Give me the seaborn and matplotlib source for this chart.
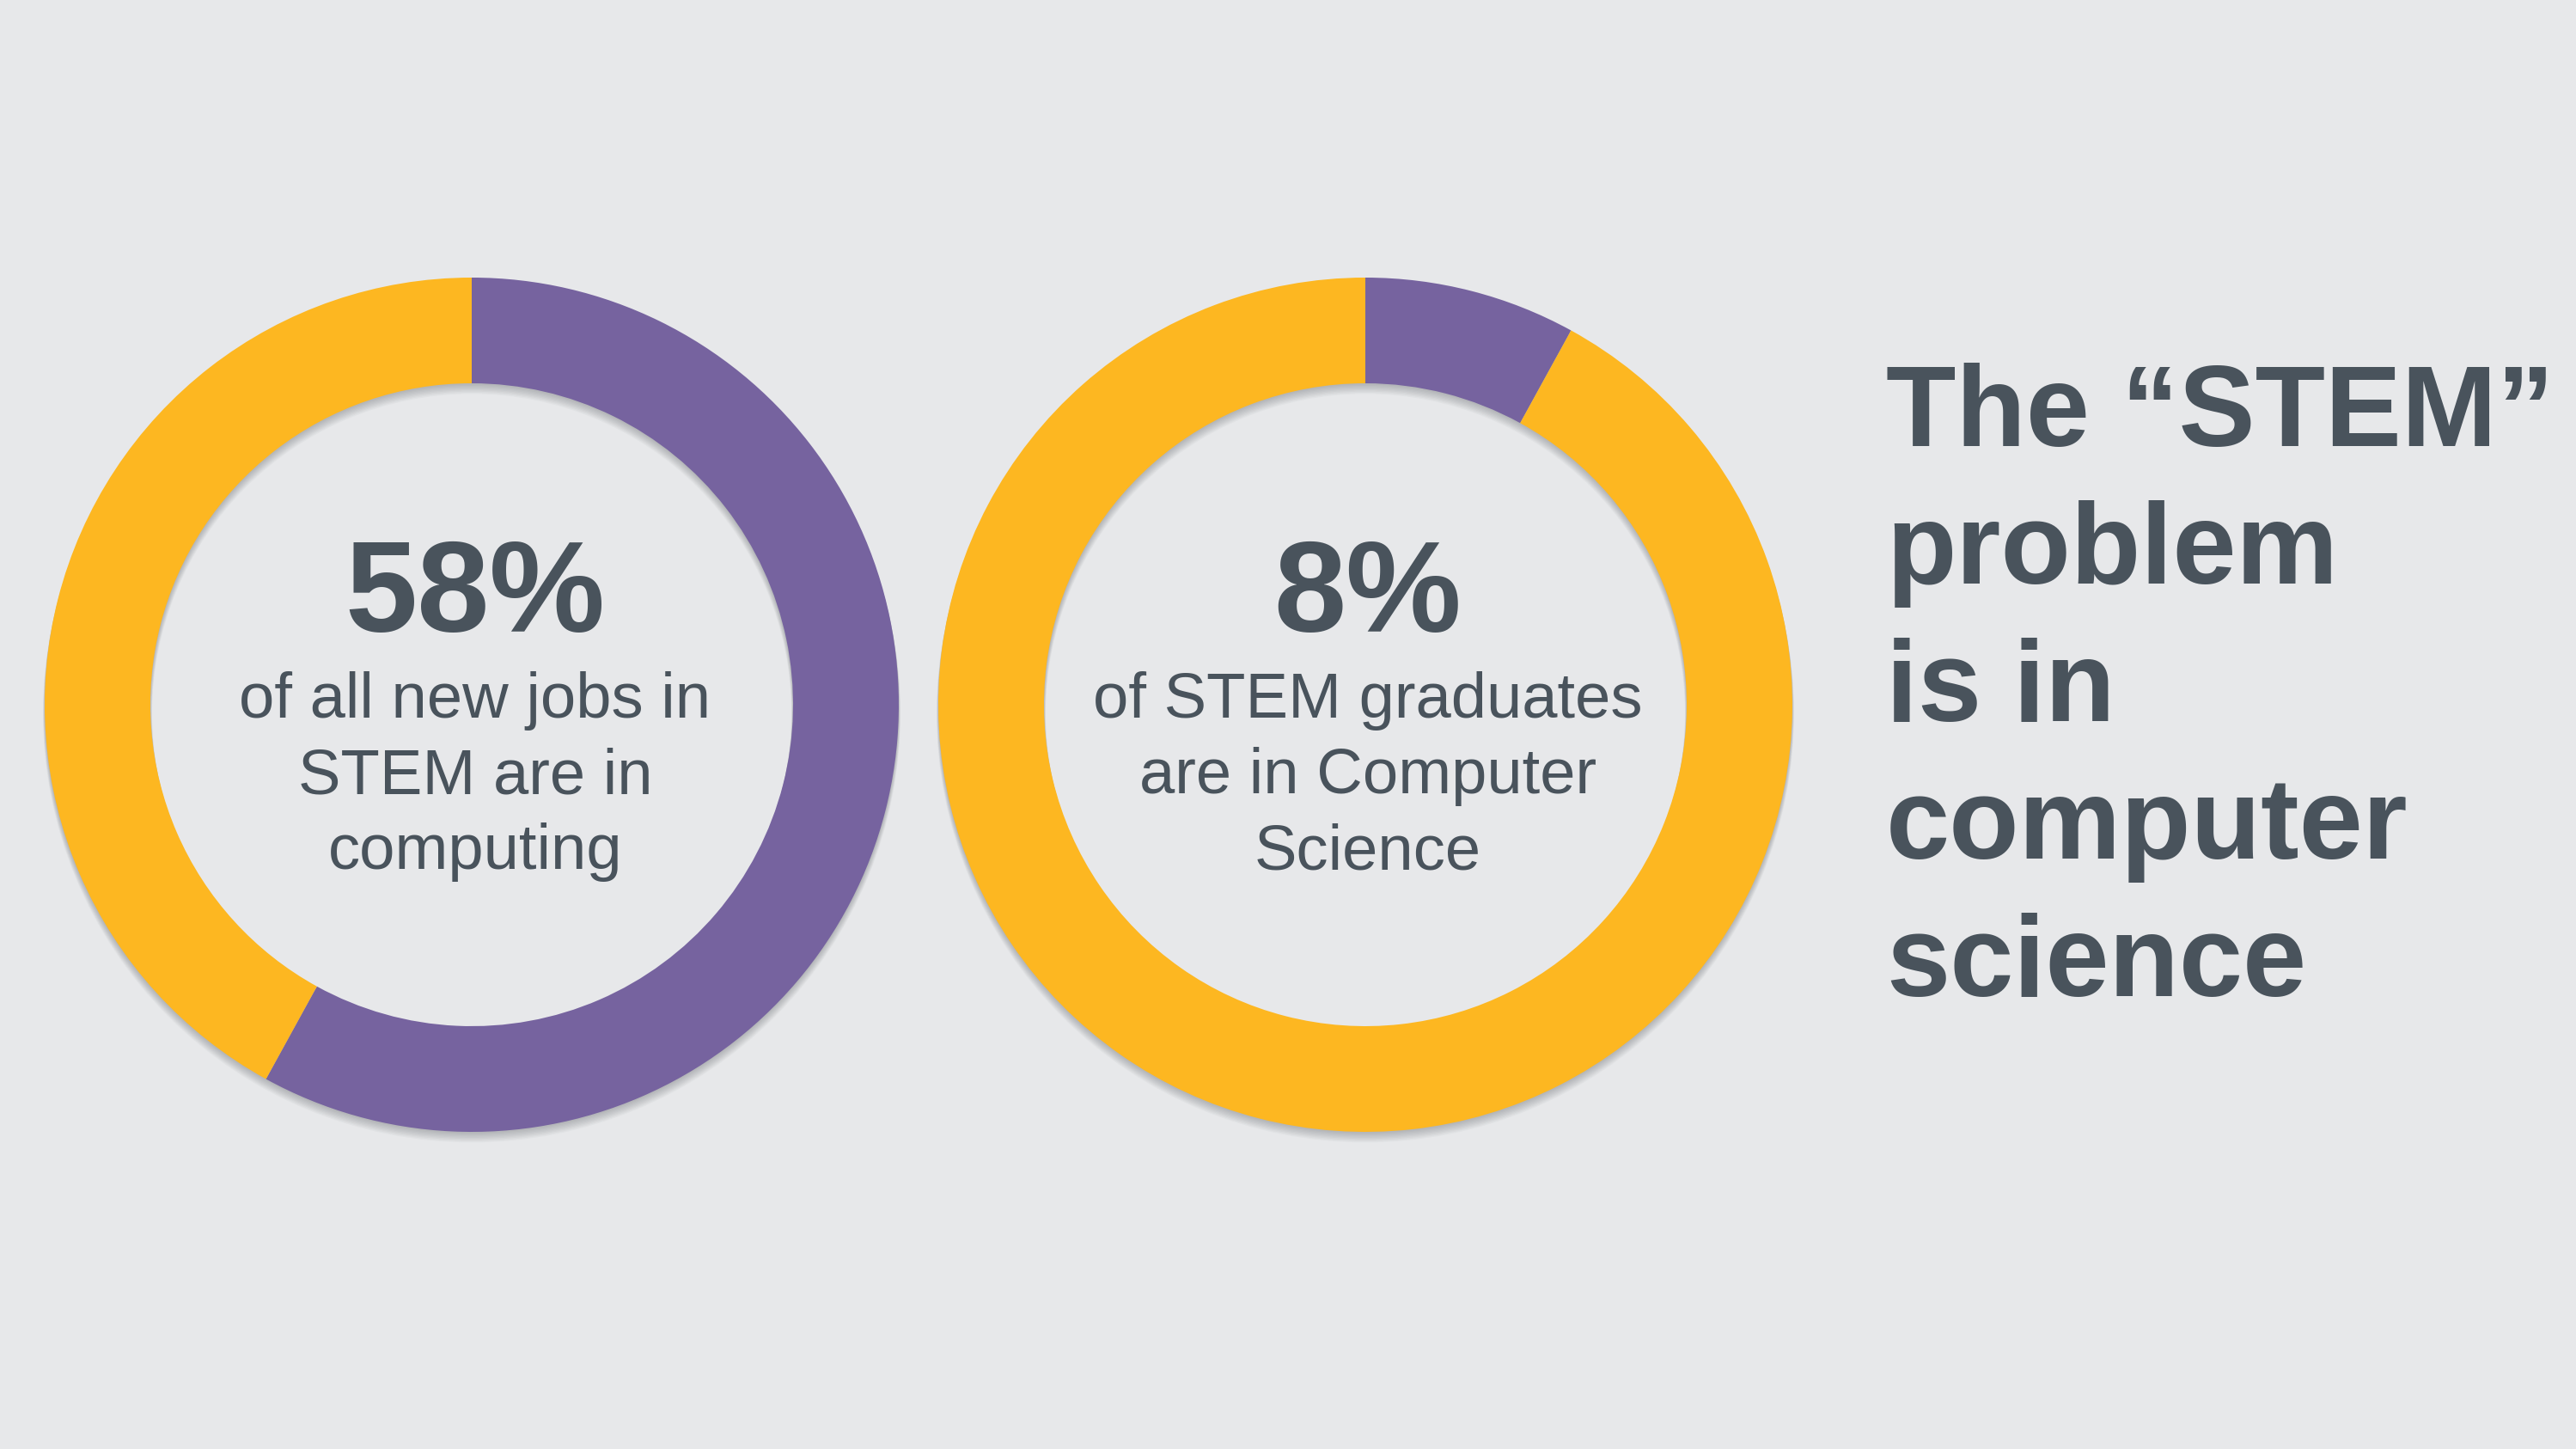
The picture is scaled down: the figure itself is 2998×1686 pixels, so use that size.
import matplotlib
matplotlib.use("Agg")
import matplotlib.pyplot as plt
from matplotlib.patches import Wedge
import seaborn as sns

# ---- data ----
segments = ["Computing", "Other"]
left_values = [58, 42]
right_values = [8, 92]
left_big = "58%"
left_lines = ["of all new jobs in", "STEM are in", "computing"]
right_big = "8%"
right_lines = ["of STEM graduates", "are in Computer", "Science"]
title_lines = ["The \u201cSTEM\u201d", "problem", "is in", "computer", "science"]

# ---- style ----
BG = "#e7e8ea"
TXT = "#49535c"
palette = sns.color_palette(["#76639f", "#fdb721"])
sns.set_theme(style="white", rc={"figure.facecolor": BG, "axes.facecolor": BG})
plt.rcParams["font.family"] = ["Liberation Sans", "DejaVu Sans"]

W, H = 2998, 1686
fig = plt.figure(figsize=(W / 100, H / 100), dpi=100)
ax = fig.add_axes([0, 0, 1, 1])
ax.set_facecolor(BG)

R_OUT, R_IN = 497, 374
centers = [(549, H - 820), (1589, H - 820)]


def shadow(ax, c):
    for i in range(9):
        off = 1.5 + i * 1.1
        ax.add_patch(Wedge((c[0], c[1] - off), R_OUT + i * 0.25, 0, 360,
                           width=R_OUT - R_IN + i * 0.5,
                           facecolor="#3c4148", edgecolor="none",
                           alpha=0.035, zorder=1))


for c, vals in zip(centers, [left_values, right_values]):
    shadow(ax, c)
    ax.pie(vals, colors=palette, startangle=90, counterclock=False,
           center=c, radius=R_OUT,
           wedgeprops=dict(width=R_OUT - R_IN, edgecolor="none", zorder=2))

# centre texts
for cx, big, lines in [(553, left_big, left_lines), (1592, right_big, right_lines)]:
    ax.text(cx, H - 735, big, ha="center", va="baseline", fontsize=109,
            fontweight="bold", color=TXT, zorder=5)
    for k, ln in enumerate(lines):
        ax.text(cx, H - (835 + 88 * k), ln, ha="center", va="baseline",
                fontsize=53.5, color=TXT, zorder=5)

# title on right
for k, ln in enumerate(title_lines):
    ax.text(2195, H - (519 + 160 * k), ln, ha="left", va="baseline",
            fontsize=96, fontweight="bold", color=TXT, zorder=5)

ax.set_xlim(0, W)
ax.set_ylim(0, H)
ax.set_aspect("equal")
ax.axis("off")

fig.savefig("out.png", dpi=100, facecolor=BG)
